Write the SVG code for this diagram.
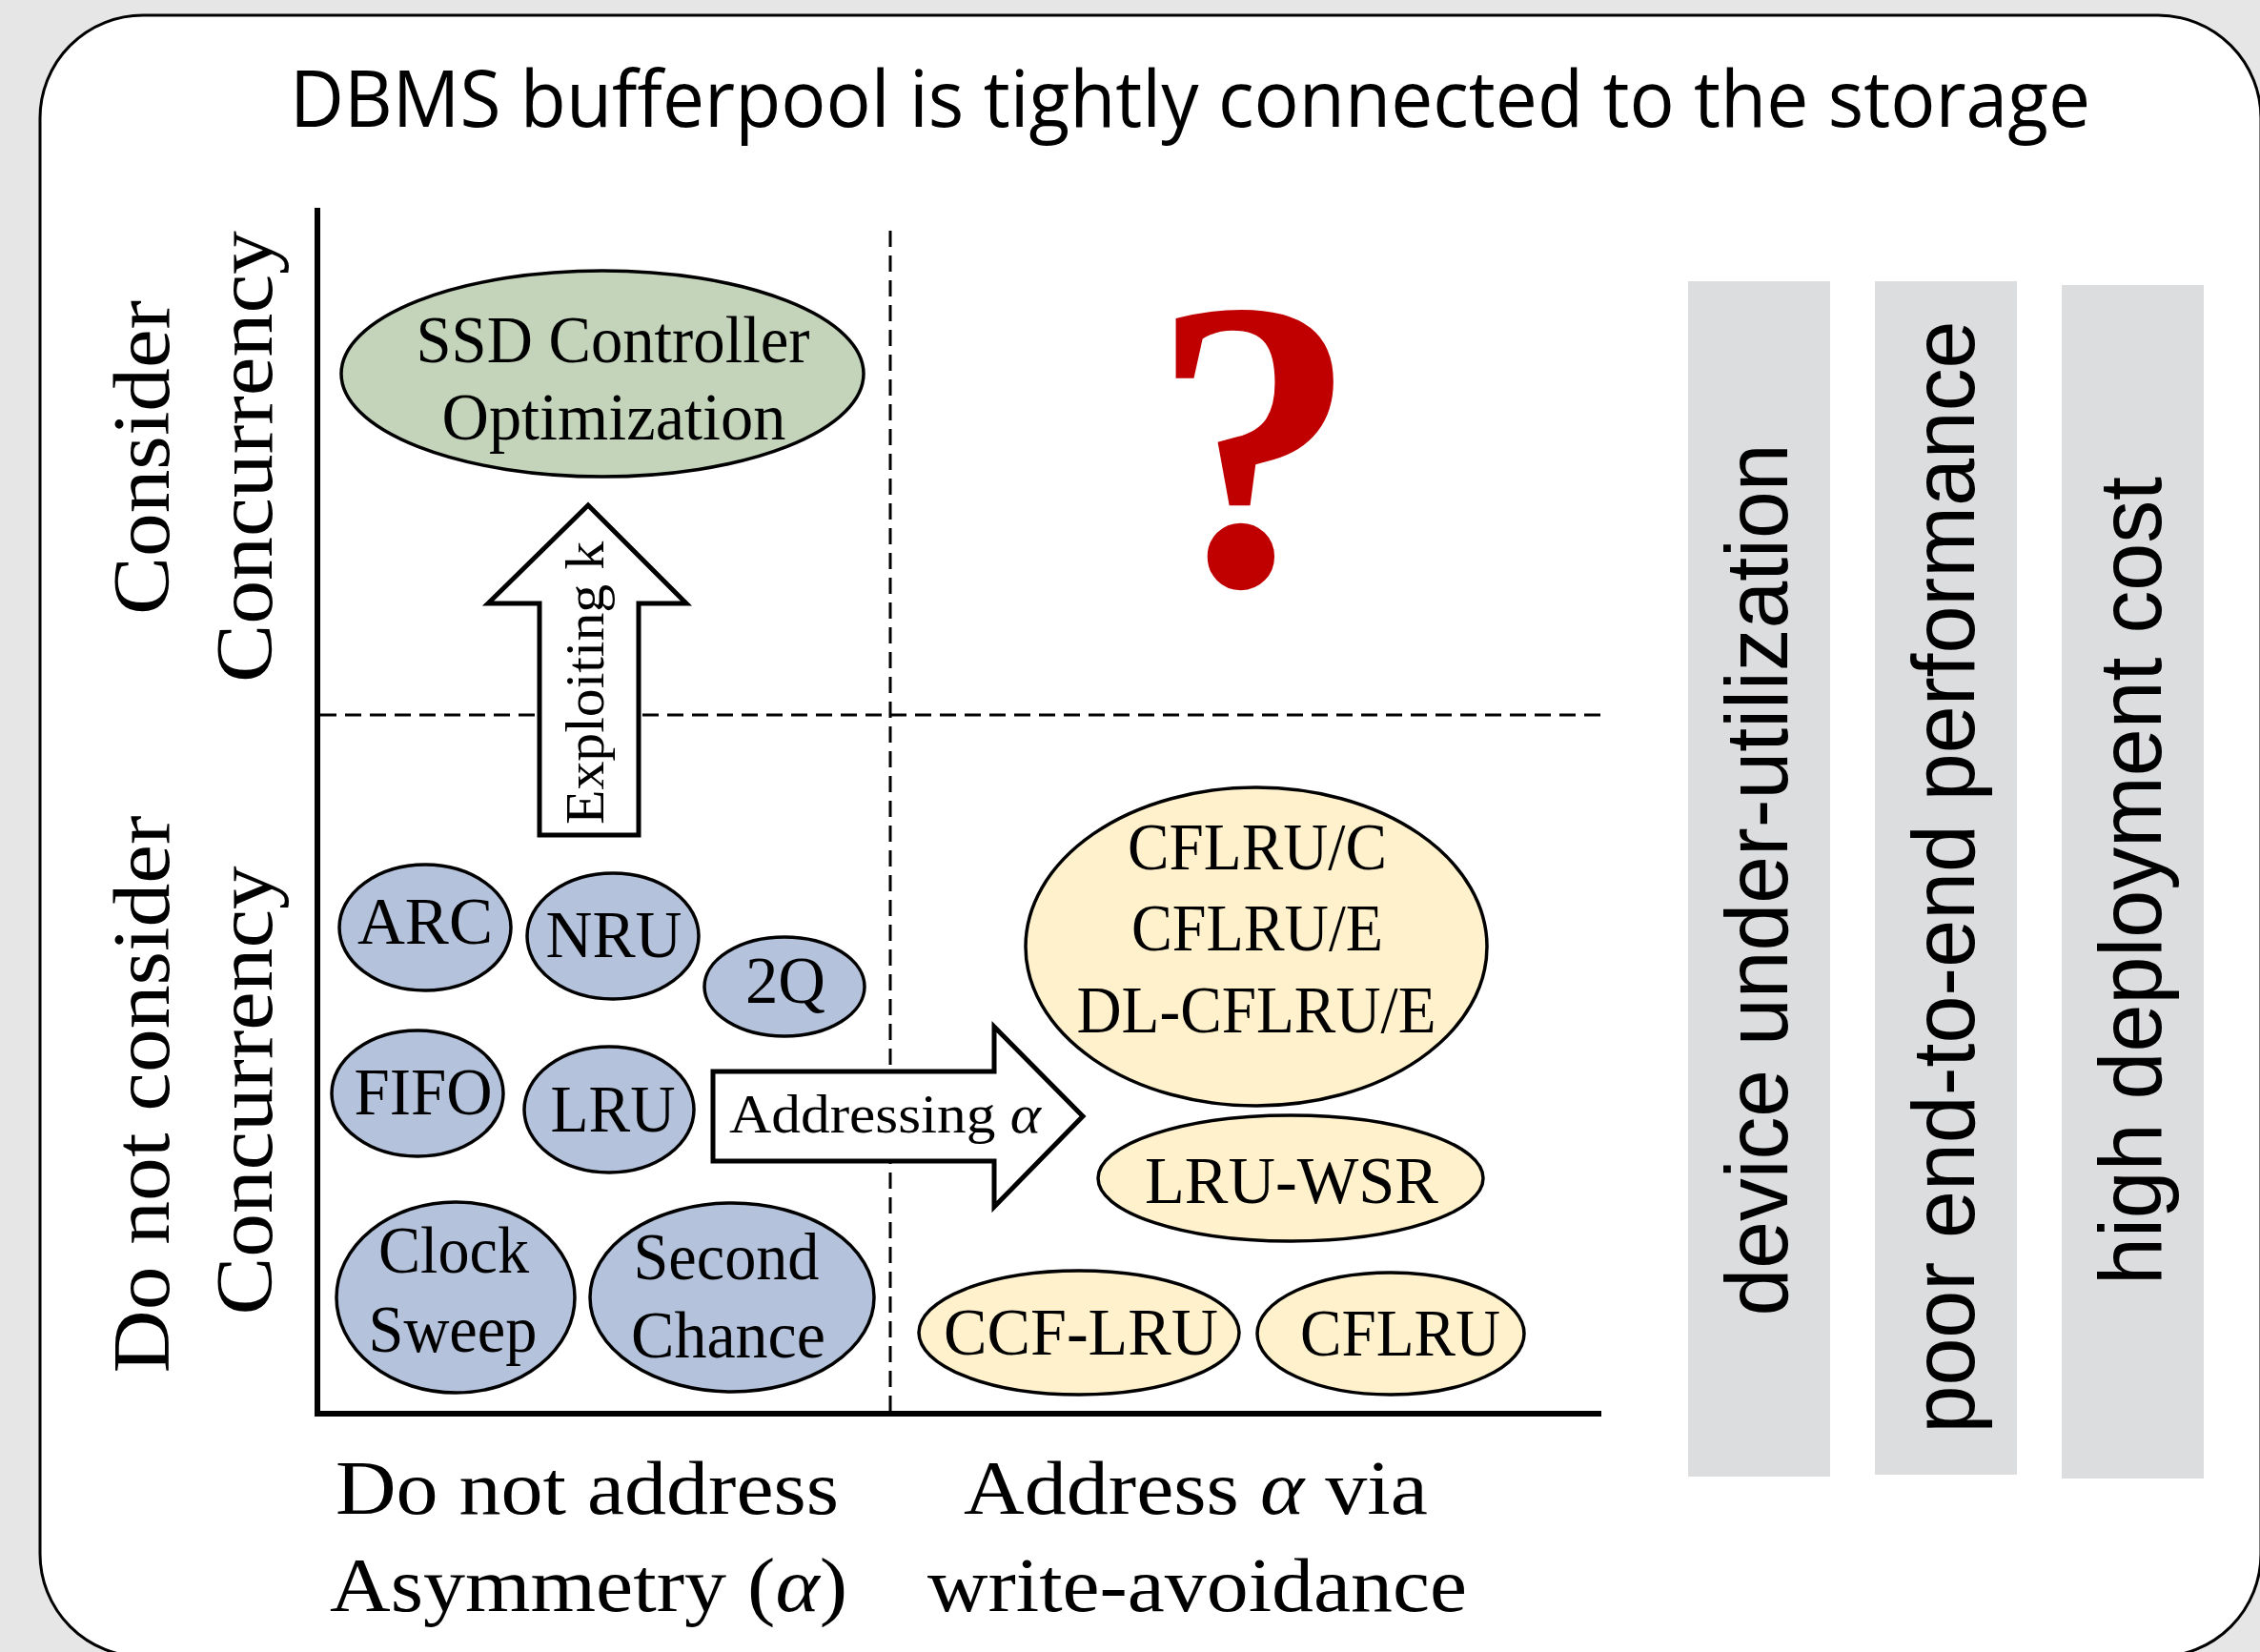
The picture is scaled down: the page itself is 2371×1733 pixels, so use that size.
<svg xmlns="http://www.w3.org/2000/svg" width="2371" height="1733" viewBox="0 0 2371 1733">
<style>
.serif{font-family:"Liberation Serif","Times New Roman",serif;fill:#000}
.bub{font-size:69px;text-anchor:middle}
.ax{font-size:84px}
.lbl{font-size:80px}
.blue{fill:#b4c2dc;stroke:#000;stroke-width:3.5}
.green{fill:#c3d4bb;stroke:#000;stroke-width:3.5}
.yel{fill:#fff1cc;stroke:#000;stroke-width:3.5}
.dash{stroke:#000;stroke-width:3;stroke-dasharray:17 9;fill:none}
.blk{fill:#fff;stroke:#000;stroke-width:5;stroke-linejoin:miter}
.panel{fill:#dcdddf}
.ptxt{font-family:"Liberation Sans",Arial,sans-serif;font-size:92px;fill:#000;text-anchor:middle}
</style>
<rect x="0" y="0" width="2371" height="1733" fill="#e6e6e6"/>
<rect id="frame" x="42" y="16" width="2330" height="1722" rx="108" ry="108" fill="#fff" stroke="#000" stroke-width="3"/>
<text id="title" x="304" y="133" font-family="'Open Sans','Noto Sans',sans-serif" font-size="83" textLength="1889" lengthAdjust="spacingAndGlyphs" fill="#000">DBMS bufferpool is tightly connected to the storage</text>

<g id="axes">
<line x1="333" y1="218" x2="333" y2="1486" stroke="#000" stroke-width="6"/>
<line x1="330" y1="1483" x2="1680" y2="1483" stroke="#000" stroke-width="6"/>
<line class="dash" x1="934" y1="242" x2="934" y2="1480"/>
<line class="dash" x1="336" y1="750" x2="1680" y2="750"/>
</g>

<g id="y-labels" class="serif ax" text-anchor="middle">
<text transform="translate(177,480) rotate(-90)" textLength="330" lengthAdjust="spacingAndGlyphs">Consider</text>
<text transform="translate(285,479) rotate(-90)" textLength="474" lengthAdjust="spacingAndGlyphs">Concurrency</text>
<text transform="translate(177,1148) rotate(-90)" textLength="585" lengthAdjust="spacingAndGlyphs">Do not consider</text>
<text transform="translate(285,1144) rotate(-90)" textLength="471" lengthAdjust="spacingAndGlyphs">Concurrency</text>
</g>

<g id="x-labels" class="serif lbl">
<text x="352" y="1588" textLength="528" lengthAdjust="spacingAndGlyphs">Do not address</text>
<text x="346" y="1690" textLength="543" lengthAdjust="spacingAndGlyphs">Asymmetry (<tspan font-style="italic">α</tspan>)</text>
<text x="1011" y="1588" textLength="487" lengthAdjust="spacingAndGlyphs">Address <tspan font-style="italic">α</tspan> via</text>
<text x="973" y="1690" textLength="566" lengthAdjust="spacingAndGlyphs">write-avoidance</text>
</g>

<g id="node-ssd">
<ellipse class="green" cx="632" cy="392" rx="274" ry="108"/>
<text class="serif bub" x="643" y="380" textLength="413" lengthAdjust="spacingAndGlyphs">SSD Controller</text>
<text class="serif bub" x="644" y="461" textLength="361" lengthAdjust="spacingAndGlyphs">Optimization</text>
</g>

<g id="node-question">
<text x="1316" y="613" font-family="'Liberation Serif',serif" font-weight="bold" font-size="435" fill="#c00000" text-anchor="middle">?</text>
</g>

<g id="node-arc"><ellipse class="blue" cx="446" cy="973" rx="90" ry="66"/><text class="serif bub" x="446" y="990" textLength="142" lengthAdjust="spacingAndGlyphs">ARC</text></g>
<g id="node-nru"><ellipse class="blue" cx="643" cy="982" rx="90" ry="66"/><text class="serif bub" x="644" y="1004" textLength="143" lengthAdjust="spacingAndGlyphs">NRU</text></g>
<g id="node-2q"><ellipse class="blue" cx="823" cy="1035" rx="84" ry="52"/><text class="serif bub" x="824" y="1052" textLength="84" lengthAdjust="spacingAndGlyphs">2Q</text></g>
<g id="node-fifo"><ellipse class="blue" cx="438" cy="1147" rx="90" ry="66"/><text class="serif bub" x="444" y="1169" textLength="145" lengthAdjust="spacingAndGlyphs">FIFO</text></g>
<g id="node-lru"><ellipse class="blue" cx="639" cy="1164" rx="89" ry="66"/><text class="serif bub" x="643" y="1187" textLength="131" lengthAdjust="spacingAndGlyphs">LRU</text></g>
<g id="node-clock"><ellipse class="blue" cx="478" cy="1361" rx="125" ry="100"/><text class="serif bub" x="476" y="1335" textLength="158" lengthAdjust="spacingAndGlyphs">Clock</text><text class="serif bub" x="475" y="1418" textLength="177" lengthAdjust="spacingAndGlyphs">Sweep</text></g>
<g id="node-second"><ellipse class="blue" cx="768" cy="1361" rx="149" ry="99"/><text class="serif bub" x="762" y="1342" textLength="195" lengthAdjust="spacingAndGlyphs">Second</text><text class="serif bub" x="764" y="1424" textLength="204" lengthAdjust="spacingAndGlyphs">Chance</text></g>

<g id="node-cflru-group"><ellipse class="yel" cx="1318" cy="993" rx="242" ry="167"/>
<text class="serif bub" x="1319" y="912" textLength="272" lengthAdjust="spacingAndGlyphs">CFLRU/C</text>
<text class="serif bub" x="1319" y="997" textLength="264" lengthAdjust="spacingAndGlyphs">CFLRU/E</text>
<text class="serif bub" x="1318" y="1083" textLength="377" lengthAdjust="spacingAndGlyphs">DL-CFLRU/E</text></g>
<g id="node-lruwsr"><ellipse class="yel" cx="1354" cy="1236" rx="202" ry="66"/><text class="serif bub" x="1355" y="1262" textLength="308" lengthAdjust="spacingAndGlyphs">LRU-WSR</text></g>
<g id="node-ccflru"><ellipse class="yel" cx="1132" cy="1398" rx="168" ry="65"/><text class="serif bub" x="1134" y="1421" textLength="288" lengthAdjust="spacingAndGlyphs">CCF-LRU</text></g>
<g id="node-cflru"><ellipse class="yel" cx="1459" cy="1399" rx="140" ry="64"/><text class="serif bub" x="1469" y="1422" textLength="210" lengthAdjust="spacingAndGlyphs">CFLRU</text></g>

<g id="connectors">
<g id="arrow-exploiting">
<polygon class="blk" points="566,876 566,633 512,633 617,530 720,633 670,633 670,876"/>
<text class="serif" transform="translate(633,716.5) rotate(-90)" font-size="58" text-anchor="middle" textLength="297" lengthAdjust="spacingAndGlyphs">Exploiting k</text>
</g>
<g id="arrow-addressing">
<polygon class="blk" points="748,1124 1043,1124 1043,1077 1136,1171 1043,1266 1043,1218 748,1218"/>
<text class="serif" x="765" y="1188" font-size="56" textLength="327" lengthAdjust="spacingAndGlyphs">Addressing <tspan font-style="italic">α</tspan></text>
</g>
</g>

<g id="panel-1"><rect class="panel" x="1771" y="295" width="149" height="1254"/><text class="ptxt" transform="translate(1875,923) rotate(-90)" textLength="915" lengthAdjust="spacingAndGlyphs">device under-utilization</text></g>
<g id="panel-2"><rect class="panel" x="1967" y="295" width="149" height="1252"/><text class="ptxt" transform="translate(2071,920) rotate(-90)" textLength="1167" lengthAdjust="spacingAndGlyphs">poor end-to-end performance</text></g>
<g id="panel-3"><rect class="panel" x="2163" y="299" width="149" height="1252"/><text class="ptxt" transform="translate(2267,924) rotate(-90)" textLength="848" lengthAdjust="spacingAndGlyphs">high deployment cost</text></g>
</svg>
